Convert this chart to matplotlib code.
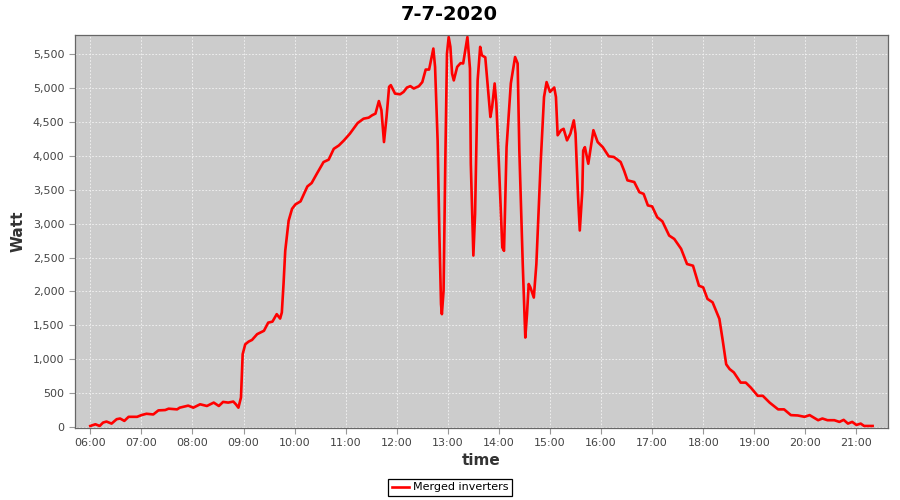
import matplotlib
matplotlib.use("Agg")
import matplotlib.pyplot as plt
import matplotlib.dates as mdates
import pandas as pd

# readings of the merged inverters on 7-7-2020 (time, watt)
times = [
    "06:00", "06:06", "06:11", "06:15", "06:19", "06:25", "06:31", "06:35", "06:40", "06:45",
    "06:55", "07:00", "07:06", "07:14", "07:20", "07:28", "07:32", "07:42", "07:45", "07:55",
    "08:01", "08:09", "08:17", "08:25", "08:31", "08:36", "08:42", "08:48", "08:51", "08:54",
    "08:57", "08:59", "09:02", "09:06", "09:10", "09:16", "09:24", "09:29", "09:34", "09:39",
    "09:43", "09:45", "09:47", "09:49", "09:53", "09:57", "10:01", "10:07", "10:15", "10:20",
    "10:26", "10:34", "10:40", "10:46", "10:52", "10:58", "11:05", "11:14", "11:21", "11:27",
    "11:31", "11:35", "11:39", "11:42", "11:45", "11:48", "11:51", "11:53", "11:58", "12:04",
    "12:08", "12:12", "12:16", "12:20", "12:26", "12:30", "12:34", "12:38", "12:43", "12:45",
    "12:48", "12:50", "12:52", "12:53", "12:55", "12:57", "12:59", "13:01", "13:03", "13:05",
    "13:07", "13:11", "13:15", "13:18", "13:23", "13:26", "13:27", "13:30", "13:32", "13:35",
    "13:38", "13:40", "13:44", "13:46", "13:50", "13:52", "13:55", "13:57", "14:00", "14:04",
    "14:06", "14:09", "14:14", "14:19", "14:22", "14:24", "14:28", "14:31", "14:33", "14:35",
    "14:37", "14:41", "14:44", "14:49", "14:53", "14:56", "15:00", "15:05", "15:07", "15:09",
    "15:13", "15:16", "15:20", "15:24", "15:28", "15:30", "15:33", "15:35", "15:38", "15:39",
    "15:41", "15:45", "15:51", "15:56", "16:02", "16:09", "16:15", "16:23", "16:27", "16:31",
    "16:39", "16:45", "16:50", "16:55", "17:00", "17:06", "17:12", "17:20", "17:26", "17:34",
    "17:41", "17:48", "17:55", "18:00", "18:05", "18:11", "18:19", "18:23", "18:27", "18:31",
    "18:36", "18:44", "18:50", "18:56", "19:04", "19:10", "19:18", "19:28", "19:35", "19:43",
    "19:51", "19:59", "20:05", "20:15", "20:20", "20:26", "20:34", "20:40", "20:45", "20:50",
    "20:55", "21:00", "21:05", "21:09", "21:19",
]
watts = [
    15, 40, 15, 65, 80, 50, 115, 125, 90, 150,
    150, 175, 195, 185, 245, 250, 270, 260, 285, 315,
    285, 335, 310, 360, 310, 370, 360, 375, 335, 285,
    435, 1075, 1220, 1260, 1285, 1370, 1420, 1540, 1555, 1665,
    1600, 1690, 2110, 2600, 3045, 3220, 3285, 3330, 3550, 3600,
    3735, 3910, 3945, 4105, 4155, 4230, 4330, 4485, 4550, 4565,
    4600, 4625, 4810, 4675, 4205, 4575, 5020, 5045, 4920, 4910,
    4945, 5010, 5030, 4995, 5030, 5090, 5275, 5275, 5585, 5315,
    4230, 2900, 1815, 1665, 2010, 3885, 5510, 5755, 5610, 5215,
    5115, 5315, 5370, 5365, 5755, 5290, 3885, 2530, 3145, 5115,
    5610, 5485, 5455, 5165, 4575, 4720, 5070, 4770, 3885, 2650,
    2600, 4130, 5070, 5460, 5365, 4080, 2405, 1320, 1665, 2110,
    2060, 1910, 2405, 3885, 4870, 5090, 4945, 5010, 4870, 4305,
    4380, 4400, 4230, 4330, 4525, 4330, 3390, 2900, 3490, 4080,
    4130, 3885, 4380, 4205, 4130, 3995, 3985, 3910, 3785, 3640,
    3615, 3465, 3440, 3270, 3255, 3095, 3035, 2825, 2775, 2630,
    2405, 2380, 2085, 2060, 1890, 1840, 1595, 1270, 925, 855,
    805, 655, 655, 580, 460, 460, 360, 260, 260, 175,
    170, 150, 175, 100, 125, 100, 100, 75, 105, 50,
    75, 30, 50, 15, 15,
]
series_name = "Merged inverters"
day = "2020-07-07"

t = pd.to_datetime([day + " " + s for s in times])

fig = plt.figure(figsize=(9, 5), dpi=100)
ax = fig.add_axes([0.0833, 0.144, 0.9033, 0.786])
ax.set_facecolor("#cccccc")

ax.plot(t, watts, color="#ff0000", linewidth=1.9, label=series_name)

ax.set_xlim(pd.Timestamp(day + " 05:42"), pd.Timestamp(day + " 21:37"))
ax.set_ylim(-15, 5785)
ax.set_yticks(range(0, 5501, 500))
ax.yaxis.set_major_formatter(matplotlib.ticker.StrMethodFormatter("{x:,.0f}"))
ax.xaxis.set_major_locator(mdates.HourLocator())
ax.xaxis.set_major_formatter(mdates.DateFormatter("%H:%M"))

ax.grid(True, color="#f4f4f4", linestyle=(0, (2, 2)), linewidth=0.6)
ax.set_axisbelow(True)
for s in ax.spines.values():
    s.set_color("#666666")
    s.set_linewidth(0.9)
ax.tick_params(colors="#999999", labelcolor="#444444", labelsize=8, length=4, width=0.8)

ax.set_title("7-7-2020", fontsize=14, fontweight="bold", pad=11, x=0.46)
ax.set_xlabel("time", fontsize=11, fontweight="bold", color="#333333", labelpad=3)
ax.set_ylabel("Watt", fontsize=11, fontweight="bold", color="#333333", labelpad=5)

leg = fig.legend(loc="center", bbox_to_anchor=(0.5, 0.025), fontsize=8,
                 fancybox=False, edgecolor="black", framealpha=1,
                 handlelength=1.6, borderpad=0.35, handletextpad=0.3)
leg.get_frame().set_linewidth(0.9)

fig.savefig("out.png", dpi=100, facecolor="white")
